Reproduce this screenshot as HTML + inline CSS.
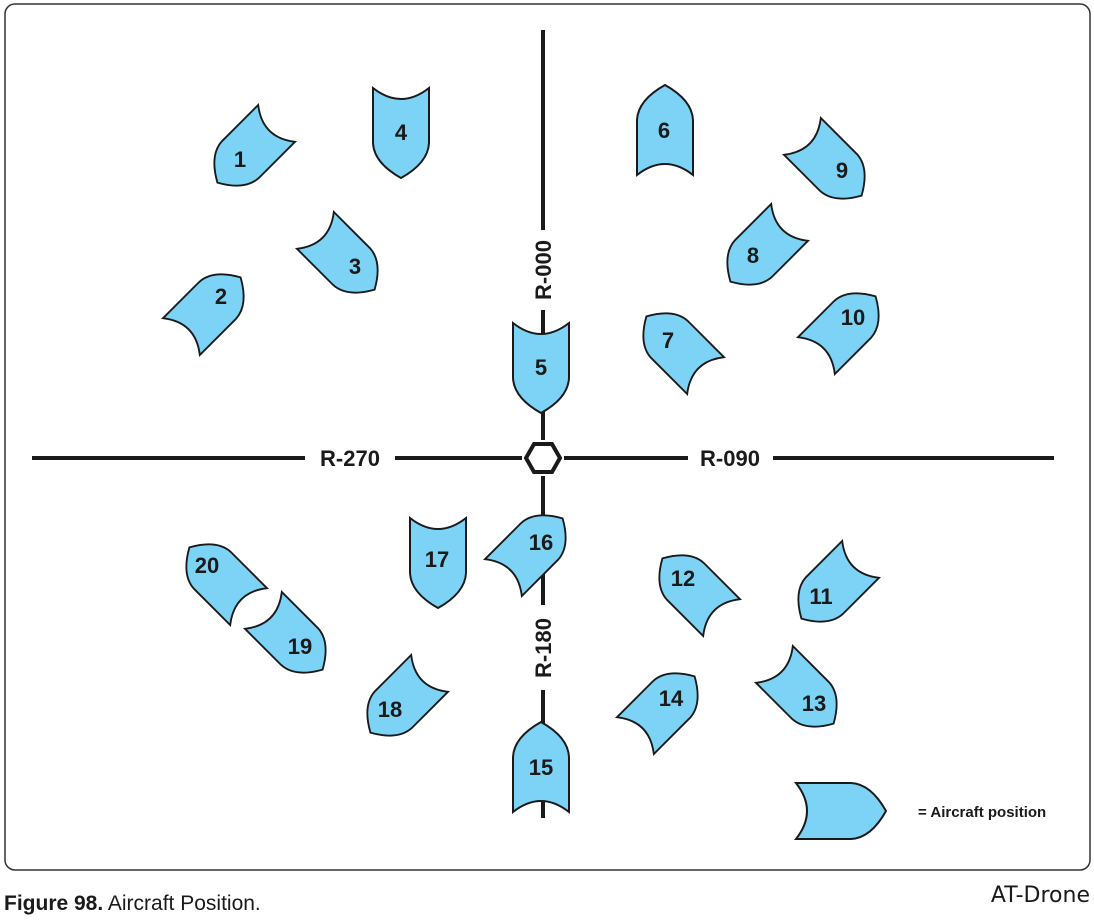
<!DOCTYPE html>
<html><head><style>
html,body{margin:0;padding:0;background:#fff;}
body{width:1094px;height:921px;position:relative;overflow:hidden;font-family:"Liberation Sans",Arial,sans-serif;}
</style></head><body>
<svg width="1094" height="921" viewBox="0 0 1094 921" xmlns="http://www.w3.org/2000/svg" style="position:absolute;left:0;top:0">
<defs>
<path id="ac" d="M -28 45 Q 0 23 28 45 L 28 -10 Q 27 -30 0 -45 Q -27 -30 -28 -10 Z" fill="#7dd3f5" stroke="#1a1a1a" stroke-width="2"/>
</defs>
<rect x="5" y="4" width="1085" height="866" rx="10" fill="none" stroke="#333" stroke-width="1.5"/>
<g stroke="#1a1a1a" stroke-width="4">
<line x1="543" y1="30" x2="543" y2="230"/>
<line x1="543" y1="310" x2="543" y2="440"/>
<line x1="543" y1="476" x2="543" y2="605"/>
<line x1="543" y1="690" x2="543" y2="818"/>
<line x1="32" y1="458" x2="305" y2="458"/>
<line x1="395" y1="458" x2="522" y2="458"/>
<line x1="564" y1="458" x2="688" y2="458"/>
<line x1="773" y1="458" x2="1054" y2="458"/>
</g>
<polygon points="534,444 552,444 560,458 552,472 534,472 526,458" fill="#fff" stroke="#1a1a1a" stroke-width="4"/>
<g font-family="Liberation Sans, Arial, sans-serif" font-weight="bold" font-size="22" fill="#1a1a1a" text-anchor="middle">
<text x="350" y="466">R-270</text>
<text x="730" y="466">R-090</text>
<text transform="translate(551,270) rotate(-90)">R-000</text>
<text transform="translate(551,648) rotate(-90)">R-180</text>
</g>
<g>
<use href="#ac" transform="translate(247,153) rotate(225) scale(0.93)"/>
<use href="#ac" transform="translate(211,307) rotate(45) scale(0.93)"/>
<use href="#ac" transform="translate(345,260) rotate(135) scale(0.93)"/>
<use href="#ac" transform="translate(401,133) rotate(180)"/>
<use href="#ac" transform="translate(541,368) rotate(180)"/>
<use href="#ac" transform="translate(665,130) rotate(0)"/>
<use href="#ac" transform="translate(676,346) rotate(315) scale(0.93)"/>
<use href="#ac" transform="translate(760,252) rotate(225) scale(0.93)"/>
<use href="#ac" transform="translate(832,166) rotate(135) scale(0.93)"/>
<use href="#ac" transform="translate(846,326) rotate(45) scale(0.93)"/>
<use href="#ac" transform="translate(831,589) rotate(225) scale(0.93)"/>
<use href="#ac" transform="translate(692,588) rotate(315) scale(0.93)"/>
<use href="#ac" transform="translate(804,694) rotate(135) scale(0.93)"/>
<use href="#ac" transform="translate(665,706) rotate(45) scale(0.93)"/>
<use href="#ac" transform="translate(541,767) rotate(0)"/>
<use href="#ac" transform="translate(533,548) rotate(45) scale(0.93)"/>
<use href="#ac" transform="translate(438,563) rotate(180)"/>
<use href="#ac" transform="translate(400,703) rotate(225) scale(0.93)"/>
<use href="#ac" transform="translate(293,640) rotate(135) scale(0.93)"/>
<use href="#ac" transform="translate(219,577) rotate(315) scale(0.93)"/>
<use href="#ac" transform="translate(841,811) rotate(90)"/>
</g>
<g font-family="Liberation Sans, Arial, sans-serif" font-weight="bold" font-size="22" fill="#1a1a1a" text-anchor="middle">
<text x="240" y="167">1</text>
<text x="221" y="304">2</text>
<text x="355" y="274">3</text>
<text x="401" y="140">4</text>
<text x="541" y="375">5</text>
<text x="664" y="138">6</text>
<text x="668" y="348">7</text>
<text x="753" y="263">8</text>
<text x="842" y="178">9</text>
<text x="853" y="325">10</text>
<text x="821" y="604">11</text>
<text x="683" y="586">12</text>
<text x="814" y="711">13</text>
<text x="671" y="706">14</text>
<text x="541" y="775">15</text>
<text x="541" y="550">16</text>
<text x="437" y="567">17</text>
<text x="390" y="717">18</text>
<text x="300" y="654">19</text>
<text x="207" y="573">20</text>
</g>
<text x="918" y="817" font-family="Liberation Sans, Arial, sans-serif" font-weight="bold" font-size="15" fill="#1a1a1a">= Aircraft position</text>
<text x="4" y="910" font-family="Liberation Sans, Arial, sans-serif" font-size="21" fill="#1a1a1a"><tspan font-weight="bold">Figure 98.</tspan> Aircraft Position.</text>
<text x="1090" y="902" text-anchor="end" font-family="DejaVu Sans, sans-serif" font-size="22" fill="#1a1a1a">AT-Drone</text>
</svg>
</body></html>
